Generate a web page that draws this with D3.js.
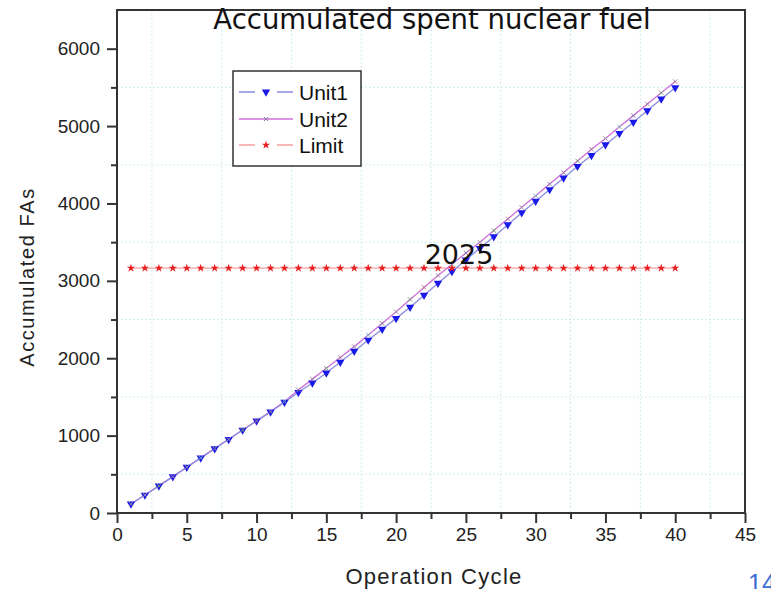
<!DOCTYPE html>
<html><head><meta charset="utf-8">
<script src="https://cdn.jsdelivr.net/npm/d3@7"></script>
<style>body{margin:0;background:#fff}svg{display:block}</style>
</head><body><svg id="c" width="771" height="589" font-family="Liberation Sans, Arial, sans-serif"></svg>
<script>
const cycles = d3.range(1, 41);
const unit1 = [116,232,350,470,592,712,832,952,1072,1190,1305,1432,1560,1680,1810,1950,2090,2235,2375,2515,2660,2815,2970,3120,3270,3420,3570,3725,3880,4030,4180,4330,4480,4620,4760,4905,5050,5200,5350,5495];
const unit2 = [116,232,350,470,592,712,832,952,1072,1190,1310,1440,1590,1730,1870,2010,2150,2300,2450,2600,2760,2915,3070,3215,3360,3500,3650,3800,3950,4100,4250,4400,4550,4700,4840,4990,5135,5285,5430,5575];
const limit = cycles.map(() => 3165);
const xTicks = [0,5,10,15,20,25,30,35,40,45];
const yTicks = [0,1000,2000,3000,4000,5000,6000];
const seriesNames = ["Unit1","Unit2","Limit"];

const svg = d3.select("#c");
const L = 117, R = 745, T = 10, B = 513;
const x = d3.scaleLinear().domain([0,45]).range([L,R]);
const y = d3.scaleLinear().domain([0,6500]).range([B,T]);
const SANS = '"Liberation Sans", Arial, sans-serif';
const WIDE = '"DejaVu Sans", Verdana, sans-serif';

// grid at minor ticks
const gx = d3.range(2.5, 45, 5), gy = d3.range(500, 6500, 1000);
svg.append("g").selectAll("line").data(gx).join("line")
  .attr("x1", d=>x(d)).attr("x2", d=>x(d)).attr("y1", T).attr("y2", B)
  .attr("stroke", "#bfe8e8").attr("stroke-width", 1).attr("stroke-dasharray", "1.5,2.5");
svg.append("g").selectAll("line").data(gy).join("line")
  .attr("y1", d=>y(d)).attr("y2", d=>y(d)).attr("x1", L).attr("x2", R)
  .attr("stroke", "#bfe8e8").attr("stroke-width", 1).attr("stroke-dasharray", "1.5,2.5");

// frame
svg.append("rect").attr("x", L).attr("y", T).attr("width", R-L).attr("height", B-T)
  .attr("fill", "none").attr("stroke", "#333").attr("stroke-width", 2);

// axes
const fmt = d3.format("d");
const xa = svg.append("g").attr("transform", `translate(0,${B})`)
  .call(d3.axisBottom(x).tickValues(xTicks).tickSize(10).tickPadding(5).tickFormat(fmt));
const xm = svg.append("g").attr("transform", `translate(0,${B})`)
  .call(d3.axisBottom(x).tickValues(d3.range(2.5,45,5)).tickSize(6).tickFormat(""));
const ya = svg.append("g").attr("transform", `translate(${L},0)`)
  .call(d3.axisLeft(y).tickValues(yTicks).tickSize(10).tickPadding(7).tickFormat(fmt));
const ym = svg.append("g").attr("transform", `translate(${L},0)`)
  .call(d3.axisLeft(y).tickValues(d3.range(500,6500,1000)).tickSize(6).tickFormat(""));
[xa,xm,ya,ym].forEach(g => {
  g.select(".domain").remove();
  g.attr("font-family", SANS).attr("font-size", 19);
  g.selectAll("line").attr("stroke", "#333").attr("stroke-width", 2);
  g.selectAll("text").attr("fill", "#222");
});

// lines
const line = (arr) => d3.line().x((d,i)=>x(cycles[i])).y(d=>y(d))(arr);
svg.append("path").attr("d", line(limit)).attr("fill","none").attr("stroke","#f4a0a0").attr("stroke-width",1.3);
svg.append("path").attr("d", line(unit2)).attr("fill","none").attr("stroke","#d070d8").attr("stroke-width",1.3);
svg.append("path").attr("d", line(unit1)).attr("fill","none").attr("stroke","#8c8ce0").attr("stroke-width",1.3);

// markers
const tri = d3.symbol().type(d3.symbolTriangle).size(30);
svg.append("g").selectAll("path").data(unit1).join("path")
  .attr("d", tri).attr("fill", "#1a1ae8")
  .attr("transform", (d,i)=>`translate(${x(cycles[i])},${y(d)}) rotate(180)`);
const u2cols = ["#8a7aa8","#a08aa8","#7a9a7a","#b07a9a","#9a8aaa","#7ab0c0"];
const cross = d3.symbol().type(d3.symbolX).size(14);
svg.append("g").selectAll("path").data(unit2).join("path")
  .attr("d", cross).attr("fill","none").attr("stroke", (d,i)=>u2cols[i%u2cols.length]).attr("stroke-width",1)
  .attr("transform", (d,i)=>`translate(${x(cycles[i])},${y(d)})`);
const star = d3.symbol().type(d3.symbolStar).size(22);
svg.append("g").selectAll("path").data(limit).join("path")
  .attr("d", star).attr("fill", "#e82020")
  .attr("transform", (d,i)=>`translate(${x(cycles[i])},${y(d)})`);

// title and annotations
svg.append("text").attr("x", 432).attr("y", 29).attr("text-anchor","middle")
  .attr("font-family", WIDE).attr("font-size", 27.5).attr("fill","#111").text("Accumulated spent nuclear fuel");
svg.append("text").attr("x", 459).attr("y", 264).attr("text-anchor","middle")
  .attr("font-family", WIDE).attr("font-size", 27).attr("fill","#111").text("2025");
svg.append("text").attr("transform","translate(34,277) rotate(-90)").attr("text-anchor","middle")
  .attr("font-family", SANS).attr("font-size", 20).attr("letter-spacing", 1.6).attr("fill","#222").text("Accumulated FAs");
svg.append("text").attr("x", 434).attr("y", 584).attr("text-anchor","middle")
  .attr("font-family", SANS).attr("font-size", 22).attr("letter-spacing", 1.3).attr("fill","#222").text("Operation Cycle");
svg.append("text").attr("x", 748).attr("y", 592).attr("font-family", SANS).attr("font-size", 25).attr("fill","#3b6fd6").text("14");

// legend
const lg = svg.append("g");
lg.append("rect").attr("x", 233).attr("y", 71).attr("width", 128).attr("height", 95)
  .attr("fill","#fff").attr("stroke","#333").attr("stroke-width",1.5);
const legCols = ["#8c8ce0","#d070d8","#f4a0a0"];
const legY = [92, 119, 145];
seriesNames.forEach((n,i) => {
  lg.append("line").attr("x1", 239).attr("x2", 293).attr("y1", legY[i]).attr("y2", legY[i])
    .attr("stroke", legCols[i]).attr("stroke-width", 1.3)
    .attr("stroke-dasharray", i===1 ? null : "16,22");
  const sym = i===0 ? tri : i===1 ? cross : star;
  lg.append("path").attr("d", sym)
    .attr("fill", i===0 ? "#1a1ae8" : i===2 ? "#e82020" : "none")
    .attr("stroke", i===1 ? "#8a7aa8" : null)
    .attr("transform", `translate(266,${legY[i]})` + (i===0 ? " rotate(180)" : ""));
  lg.append("text").attr("x", 299).attr("y", legY[i]+8).attr("font-family", SANS).attr("font-size", 21).attr("fill","#111").text(n);
});
</script></body></html>
